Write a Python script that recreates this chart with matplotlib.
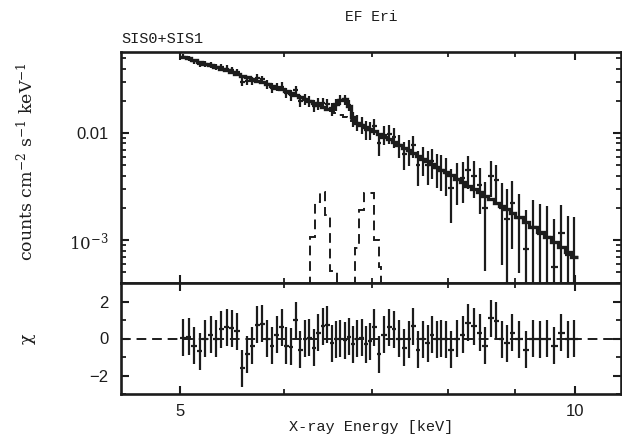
import numpy as np
import matplotlib
matplotlib.use("Agg")
import matplotlib.pyplot as plt
import matplotlib.ticker as mticker

# ── Spectrum data ──────────────────────────────────────────────────────────────
# channel bin edges, keV
bin_edges = [
    5.00, 5.05, 5.10, 5.15, 5.20, 5.25, 5.30, 5.35, 5.40, 5.45, 5.50,
    5.55, 5.60, 5.65, 5.70, 5.75, 5.80, 5.85, 5.90, 5.95, 6.00,
    6.05, 6.10, 6.15, 6.20, 6.25, 6.30, 6.35, 6.40, 6.45, 6.50,
    6.55, 6.60, 6.65, 6.70, 6.75, 6.80, 6.85, 6.90, 6.95, 7.00,
    7.06, 7.12, 7.19, 7.25, 7.31, 7.38, 7.44, 7.50,
    7.56, 7.62, 7.69, 7.75, 7.81, 7.88, 7.94, 8.00,
    8.08, 8.17, 8.25, 8.33, 8.42, 8.50, 8.58, 8.67, 8.75, 8.83, 8.92, 9.00,
    9.12, 9.23, 9.35, 9.47, 9.58, 9.70, 9.82, 9.93, 10.05,
]

# continuum model, 1e-3 counts cm^-2 s^-1 keV^-1
continuum = [
    51.5, 49.7, 47.9, 46.1, 44.5, 42.9, 41.3, 39.8, 38.4, 37.0,
    35.7, 34.4, 33.1, 31.9, 30.8, 29.7, 28.6, 27.5, 26.6, 25.6,
    24.6, 23.6, 22.6, 21.6, 20.8, 19.9, 19.1, 18.2, 17.5, 16.8,
    16.1, 15.4, 14.8, 14.1, 13.6, 13.0, 12.5, 11.9, 11.4, 10.9,
    10.4, 9.82, 9.25, 8.71, 8.22, 7.74, 7.29, 6.89,
    6.49, 6.11, 5.77, 5.43, 5.12, 4.83, 4.55, 4.30,
    4.02, 3.73, 3.48, 3.23, 3.00, 2.79, 2.59, 2.41, 2.24, 2.08, 1.94, 1.80,
    1.65, 1.48, 1.33, 1.19, 1.07, 0.96, 0.87, 0.78, 0.70,
]

# total model over the Fe-line bump (bins 30..35)
bump_start = 30
bump_total = [17.2, 18.5, 20.4, 20.9, 17.9, 14.2]

# 1-sigma flux errors, same units
flux_err = [
    2.9, 2.9, 2.9, 2.85, 2.85, 2.8, 2.8, 2.8, 2.75, 2.75,
    2.7, 2.7, 2.7, 2.65, 2.65, 2.6, 2.6, 2.6, 2.55, 2.55,
    2.5, 2.5, 2.45, 2.45, 2.4, 2.4, 2.35, 2.35, 2.3, 2.3,
    2.3, 2.25, 2.25, 2.2, 2.2, 2.15, 2.15, 2.1, 2.1, 2.05,
    2.0, 2.0, 1.95, 1.95, 1.9, 1.9, 1.85, 1.85,
    1.8, 1.8, 1.75, 1.75, 1.7, 1.7, 1.65, 1.65,
    1.6, 1.58, 1.56, 1.54, 1.52, 1.5, 1.48, 1.46, 1.44, 1.42, 1.4, 1.38,
    1.1, 1.08, 1.06, 1.04, 1.02, 1.0, 0.98, 0.96, 0.95,
]

# residuals (data - model) / sigma
chi = [
    0.05, 0.1, -0.4, -0.7, 0.0, 0.2, 0.0, 0.5, 0.6, 0.55,
    0.4, -1.6, -0.85, -0.4, 0.75, 0.8, 0.0, -0.4, 0.2, 0.6,
    -0.4, -0.45, 1.0, -0.6, 0.0, 0.05, -0.5, 0.3, 0.65, 0.75,
    -0.25, -0.05, 0.0, -0.1, 0.1, -0.3, 0.0, 0.05, -0.3, -0.15,
    0.6, -0.85, 0.2, 0.6, 0.5, 0.0, -0.5, -0.05,
    0.65, -0.6, -0.05, -0.25, 0.2, -0.05, 0.0, -0.05,
    -0.6, 0.0, 0.2, 0.85, 0.65, 0.3, -0.4, 1.1, 0.95, -0.05, -0.25, 0.3,
    -0.05, -0.6, 0.0, -0.05, 0.0, -0.4, 0.3, -0.05, 0.0,
]

# Gaussian line components (dashed), 1e-3 units
line1_edges = [6.28, 6.34, 6.39, 6.45, 6.51, 6.58]
line1_vals = [1.07, 2.26, 2.8, 1.7, 0.52]
line2_edges = [6.80, 6.85, 6.91, 7.03, 7.09, 7.12]
line2_vals = [0.84, 1.9, 2.76, 1.0, 0.56]

# ── Derived arrays ─────────────────────────────────────────────────────────────
edges = np.array(bin_edges)
lo, hi = edges[:-1], edges[1:]
ctr = 0.5 * (lo + hi)
cont = np.array(continuum) * 1e-3
total = cont.copy()
total[bump_start:bump_start + len(bump_total)] = np.array(bump_total) * 1e-3
sig = np.array(flux_err) * 1e-3
res = np.array(chi)
flux = np.clip(total + res * sig, 1e-5, None)

INK = "#1c1c1c"
plt.rcParams["mathtext.fontset"] = "dejavuserif"

fig = plt.figure(figsize=(6.22, 4.41), dpi=100, facecolor="white")
W, H = 622, 441
ax1 = fig.add_axes([121 / W, 1 - 283 / H, 500 / W, 231 / H])
ax2 = fig.add_axes([121 / W, 1 - 394 / H, 500 / W, 111 / H], sharex=ax1)

xmin, xmax = 4.508, 10.84

# ── Spectrum panel ────────────────────────────────────────────────────────────
ax1.set_xscale("log")
ax1.set_yscale("log")
ax1.stairs(cont, edges, baseline=None, color=INK, lw=1.4, ls=(0, (5, 3)))
ax1.stairs(np.array(line1_vals) * 1e-3, line1_edges, baseline=1e-6,
           color=INK, lw=1.4, ls=(0, (5, 3)))
ax1.stairs(np.array(line2_vals) * 1e-3, line2_edges, baseline=1e-6,
           color=INK, lw=1.4, ls=(0, (5, 3)))
ax1.stairs(total, edges, baseline=None, color=INK, lw=2.4)
ax1.hlines(flux, lo, hi, color=INK, lw=1.6)
ax1.vlines(ctr, np.clip(flux - sig, 1e-6, None), flux + sig, color=INK, lw=1.6)

ax1.set_xlim(xmin, xmax)
ax1.set_ylim(10 ** -3.40, 10 ** -1.243)

def yfmt(v, _):
    if abs(v - 0.01) < 1e-6:
        return "0.01"
    if abs(v - 1e-3) < 1e-8:
        return r"$10^{-3}$"
    return ""

ax1.yaxis.set_major_locator(mticker.FixedLocator([1e-3, 1e-2]))
ax1.yaxis.set_major_formatter(mticker.FuncFormatter(yfmt))
ax1.yaxis.set_minor_locator(mticker.LogLocator(subs=np.arange(2, 10)))
ax1.yaxis.set_minor_formatter(mticker.NullFormatter())

# ── Residual panel ────────────────────────────────────────────────────────────
ax2.axhline(0, color=INK, lw=1.4, ls=(0, (5, 3)), zorder=1)
ax2.hlines(res, lo, hi, color=INK, lw=1.6, zorder=2)
ax2.vlines(ctr, res - 1, res + 1, color=INK, lw=1.6, zorder=2)
ax2.set_ylim(-3, 3)
ax2.yaxis.set_major_locator(mticker.FixedLocator([-2, 0, 2]))
ax2.yaxis.set_minor_locator(mticker.MultipleLocator(1))

ax2.xaxis.set_major_locator(mticker.FixedLocator([5, 10]))
ax2.xaxis.set_minor_locator(mticker.FixedLocator([6, 7, 8, 9]))
ax2.xaxis.set_major_formatter(mticker.FuncFormatter(lambda v, _: f"{v:g}"))
ax2.xaxis.set_minor_formatter(mticker.NullFormatter())
plt.setp(ax1.get_xticklabels(), visible=False)

for ax in (ax1, ax2):
    for s in ax.spines.values():
        s.set_linewidth(1.9)
        s.set_color(INK)
    ax.tick_params(which="both", direction="in", top=True, right=True,
                   color=INK, labelcolor=INK, labelsize=12, pad=9)
    ax.tick_params(which="major", length=6, width=1.5)
    ax.tick_params(which="minor", length=3.5, width=1.3)
    for lab in ax.get_xticklabels() + ax.get_yticklabels():
        lab.set_family("Liberation Sans")
ax2.tick_params(axis="x", pad=7)

# ── Labels ────────────────────────────────────────────────────────────────────
fig.text(371 / W, 1 - 17 / H, "EF Eri", ha="center", va="center",
         family="Liberation Mono", fontsize=10.5, color=INK)
fig.text(121 / W, 1 - 39 / H, "SIS0+SIS1", ha="left", va="center",
         family="Liberation Mono", fontsize=11, color=INK)
fig.text(371 / W, 1 - 427 / H, "X-ray Energy [keV]", ha="center", va="center",
         family="Liberation Mono", fontsize=11, color=INK)
fig.text(27 / W, 1 - 162 / H, r"counts cm$^{-2}$ s$^{-1}$ keV$^{-1}$",
         rotation=90, ha="center", va="center", family="DejaVu Serif",
         fontsize=12.5, color=INK)
fig.text(27 / W, 1 - 339 / H, "χ", rotation=90, ha="center", va="center",
         family="DejaVu Serif", fontsize=12.5, color=INK)

fig.savefig("out.png", dpi=100, facecolor="white")
